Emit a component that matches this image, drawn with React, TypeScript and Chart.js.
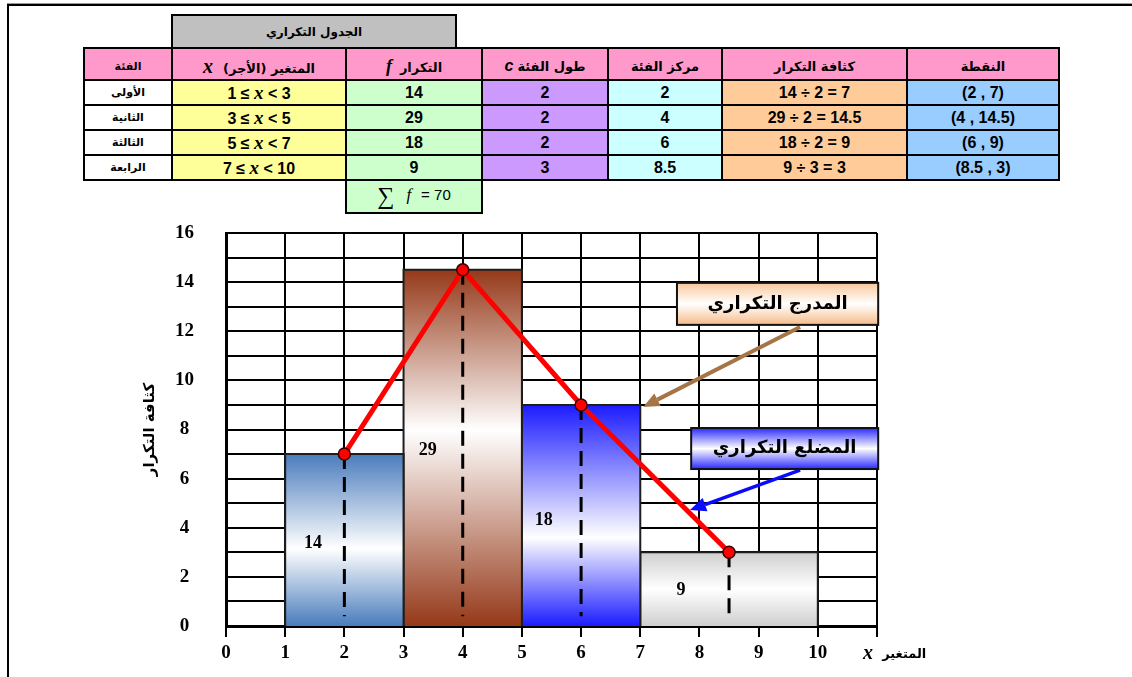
import React, { useEffect, useRef } from 'react';
import { Chart, registerables } from 'chart.js';

Chart.register(...registerables);

// ---------- data ----------
const classNames = ['الأولى', 'الثانية', 'الثالثة', 'الرابعة'];
const classLower = [1, 3, 5, 7];
const classUpper = [3, 5, 7, 10];
const frequencies = [14, 29, 18, 9];
const classWidths = [2, 2, 2, 3];
const midpoints = [2, 4, 6, 8.5];
const densities = [7, 14.5, 9, 3];
const frequencyTotal = 70;

const tableTitle = 'الجدول التكراري';
const headerLabels = ['الفئة', 'المتغير (الأجر)', 'التكرار', 'طول الفئة', 'مركز الفئة', 'كثافة التكرار', 'النقطة'];
const headerSymbols = ['', 'x', 'f', 'c', '', '', ''];

const xTickLabels = ['0', '1', '2', '3', '4', '5', '6', '7', '8', '9', '10', ''];
const yTickLabels = ['0', '', '2', '', '4', '', '6', '', '8', '', '10', '', '12', '', '14', '', '16'];
const yAxisTitle = 'كثافة التكرار';
const xAxisTitle = 'المتغير';
const xAxisSymbol = 'x';
const histogramNote = 'المدرج التكراري';
const polygonNote = 'المضلع التكراري';

// ---------- styles / layout ----------
const barStops: [number, string][][] = [
  [[0, '#4a7cbc'], [0.55, '#ffffff'], [1, '#4a7cbc']],
  [[0, '#953919'], [0.45, '#ffffff'], [1, '#953919']],
  [[0, '#1c1cff'], [0.6, '#ffffff'], [1, '#1c1cff']],
  [[0, '#cfcfcf'], [0.5, '#ffffff'], [1, '#cfcfcf']],
];
const barLabelAnchors = [[1.47, 3.38], [3.41, 7.17], [5.37, 4.32], [7.69, 1.47]];
const notes = [
  {
    text: histogramNote,
    box: [7.62, 13.97, 11.02, 12.26],
    stops: [[0, '#f8c89c'], [0.5, '#ffffff'], [1, '#f6bb88']] as [number, string][],
    from: [9.7, 12.17],
    to: [7.05, 8.92],
    color: '#a67545',
    width: 4,
  },
  {
    text: polygonNote,
    box: [7.86, 8.06, 11.02, 6.39],
    stops: [[0, '#2a2aff'], [0.5, '#ffffff'], [1, '#2a2aff']] as [number, string][],
    from: [9.7, 6.35],
    to: [7.84, 4.72],
    color: '#0a0aff',
    width: 3.5,
  },
];

function gradientFor(i: number) {
  return (ctx: any) => {
    const chart = ctx.chart;
    if (!chart.chartArea) return barStops[i][0][1];
    const y = chart.scales.y;
    const g = chart.ctx.createLinearGradient(0, y.getPixelForValue(densities[i]), 0, y.getPixelForValue(0));
    barStops[i].forEach(([o, c]) => g.addColorStop(o, c));
    return g;
  };
}

function drawArrow(ctx: CanvasRenderingContext2D, x0: number, y0: number, x1: number, y1: number, color: string, w: number) {
  const ang = Math.atan2(y1 - y0, x1 - x0);
  const head = 16;
  const hw = 7;
  const bx = x1 - head * Math.cos(ang);
  const by = y1 - head * Math.sin(ang);
  ctx.strokeStyle = color;
  ctx.lineWidth = w;
  ctx.lineCap = 'butt';
  ctx.beginPath();
  ctx.moveTo(x0, y0);
  ctx.lineTo(bx, by);
  ctx.stroke();
  ctx.fillStyle = color;
  ctx.beginPath();
  ctx.moveTo(x1, y1);
  ctx.lineTo(bx + hw * Math.sin(ang), by - hw * Math.cos(ang));
  ctx.lineTo(bx - hw * Math.sin(ang), by + hw * Math.cos(ang));
  ctx.closePath();
  ctx.fill();
}

const extrasPlugin = {
  id: 'extras',
  afterDatasetsDraw(chart: any) {
    const { ctx, scales } = chart;
    const x = scales.x;
    const y = scales.y;
    ctx.save();
    // bar frequency labels
    ctx.font = 'bold 18px "Liberation Serif", serif';
    ctx.fillStyle = '#000';
    ctx.textAlign = 'center';
    ctx.textBaseline = 'middle';
    frequencies.forEach((f, i) => {
      ctx.fillText(String(f), x.getPixelForValue(barLabelAnchors[i][0]), y.getPixelForValue(barLabelAnchors[i][1]));
    });
    // notes
    notes.forEach((n) => {
      const x0 = x.getPixelForValue(n.box[0]);
      const y0 = y.getPixelForValue(n.box[1]);
      const x1 = x.getPixelForValue(n.box[2]);
      const y1 = y.getPixelForValue(n.box[3]);
      drawArrow(ctx, x.getPixelForValue(n.from[0]), y.getPixelForValue(n.from[1]), x.getPixelForValue(n.to[0]), y.getPixelForValue(n.to[1]), n.color, n.width);
      const g = ctx.createLinearGradient(0, y0, 0, y1);
      n.stops.forEach(([o, c]) => g.addColorStop(o, c));
      ctx.fillStyle = g;
      ctx.fillRect(x0, y0, x1 - x0, y1 - y0);
      ctx.lineWidth = 2;
      ctx.strokeStyle = '#111';
      ctx.strokeRect(x0, y0, x1 - x0, y1 - y0);
      ctx.fillStyle = '#000';
      ctx.font = 'bold 18px "DejaVu Sans", sans-serif';
      ctx.direction = 'rtl';
      ctx.textAlign = 'center';
      ctx.fillText(n.text, (x0 + x1) / 2, (y0 + y1) / 2);
      ctx.direction = 'ltr';
    });
    // axis titles
    const x0p = x.getPixelForValue(0);
    ctx.save();
    ctx.translate(x0p - 76, y.getPixelForValue(8));
    ctx.rotate(-Math.PI / 2);
    ctx.font = 'bold 15px "DejaVu Sans", sans-serif';
    ctx.direction = 'rtl';
    ctx.textAlign = 'center';
    ctx.fillText(yAxisTitle, 0, 0);
    ctx.restore();
    const yb = y.getPixelForValue(0) + 28;
    ctx.font = 'italic bold 20px "Liberation Serif", serif';
    ctx.textAlign = 'center';
    ctx.fillText(xAxisSymbol, x.getPixelForValue(10.85), yb);
    ctx.font = 'bold 13px "DejaVu Sans", sans-serif';
    ctx.direction = 'rtl';
    ctx.fillText(xAxisTitle, x.getPixelForValue(11.46), yb + 1);
    ctx.restore();
  },
};

// ---------- table ----------
const colX = [84, 172, 346, 482, 608, 722, 907, 1059];
const rowY = [48, 80, 105, 130, 155, 180];
const colColors = ['#ffffff', '#ffff99', '#ccffcc', '#cc99ff', '#ccffff', '#ffcc99', '#99ccff'];
const headerColor = '#ff99cc';
const arabicFont = '"DejaVu Sans", sans-serif';
const numFont = '"Liberation Sans", Arial, sans-serif';
const serif = '"Liberation Serif", serif';

function Cell(props: { l: number; t: number; r: number; b: number; bg: string; children?: any; style?: any }) {
  const { l, t, r, b, bg, children, style } = props;
  return (
    <div
      style={{
        position: 'absolute',
        left: l - 1,
        top: t - 1,
        width: r - l + 2,
        height: b - t + 2,
        border: '2px solid #000',
        boxSizing: 'border-box',
        background: bg,
        display: 'flex',
        alignItems: 'center',
        justifyContent: 'center',
        whiteSpace: 'nowrap',
        overflow: 'hidden',
        color: '#000',
        ...style,
      }}
    >
      {children}
    </div>
  );
}

function symbolStyle(s: string): any {
  if (s === 'x') return { fontFamily: serif, fontStyle: 'italic', fontWeight: 'bold', fontSize: 20, marginRight: 10 };
  if (s === 'f') return { fontFamily: serif, fontStyle: 'italic', fontSize: 18, marginRight: 8 };
  return { fontFamily: numFont, fontStyle: 'italic', fontWeight: 'bold', fontSize: 16, marginRight: 4 };
}

function Table() {
  const rowsCells: any[] = [];
  classNames.forEach((name, r) => {
    const t = rowY[r + 1];
    const b = rowY[r + 2];
    const texts: any[] = [
      <span style={{ fontFamily: arabicFont, fontWeight: 'bold', fontSize: 11 }} dir="rtl">{name}</span>,
      <span dir="ltr">
        {classLower[r]} ≤ <span style={{ fontFamily: serif, fontStyle: 'italic', fontSize: 19 }}>x</span> &lt; {classUpper[r]}
      </span>,
      <span>{frequencies[r]}</span>,
      <span>{classWidths[r]}</span>,
      <span>{midpoints[r]}</span>,
      <span dir="ltr">{`${frequencies[r]} ÷ ${classWidths[r]} = ${densities[r]}`}</span>,
      <span dir="ltr">{`(${midpoints[r]} , ${densities[r]})`}</span>,
    ];
    texts.forEach((tx, c) => {
      rowsCells.push(
        <Cell key={`r${r}c${c}`} l={colX[c]} t={t} r={colX[c + 1]} b={b} bg={colColors[c]}
          style={{ fontFamily: numFont, fontWeight: 'bold', fontSize: 16 }}>
          {tx}
        </Cell>
      );
    });
  });
  return (
    <>
      <Cell l={colX[1]} t={15} r={456} b={rowY[0]} bg="#c0c0c0" style={{ fontFamily: arabicFont, fontWeight: 'bold', fontSize: 12 }}>
        <span dir="rtl">{tableTitle}</span>
      </Cell>
      {headerLabels.map((h, c) => (
        <Cell key={`h${c}`} l={colX[c]} t={rowY[0]} r={colX[c + 1]} b={rowY[1]} bg={headerColor}
          style={{ fontFamily: arabicFont, fontWeight: 'bold', fontSize: c === 0 ? 11 : 13, paddingTop: 4 }}>
          <span dir="rtl">
            {h}
            {headerSymbols[c] ? <span style={symbolStyle(headerSymbols[c])}>{headerSymbols[c]}</span> : null}
          </span>
        </Cell>
      ))}
      {rowsCells}
      <Cell l={colX[2]} t={rowY[5]} r={colX[3]} b={213} bg={colColors[2]} style={{ fontFamily: numFont, fontSize: 15 }}>
        <span dir="ltr">
          <span style={{ fontFamily: serif, fontSize: 24, verticalAlign: 'middle' }}>∑</span>
          <span style={{ fontFamily: serif, fontStyle: 'italic', fontSize: 17, margin: '0 10px 0 12px' }}>f</span>
          = {frequencyTotal}
        </span>
      </Cell>
    </>
  );
}

export default function App() {
  const canvasRef = useRef<HTMLCanvasElement>(null);
  useEffect(() => {
    const polygon = {
      label: 'polygon',
      data: midpoints.map((m, i) => ({ x: m, y: densities[i] })),
      borderColor: '#ff0000',
      borderWidth: 5,
      pointRadius: 6,
      pointBackgroundColor: '#ff0000',
      pointBorderColor: '#3a0000',
      pointBorderWidth: 1.5,
      fill: false,
      order: 0,
    };
    const dashes = midpoints.map((m, i) => ({
      label: 'mid' + i,
      data: [{ x: m, y: densities[i] }, { x: m, y: 0.4 }],
      borderColor: '#000',
      borderWidth: 3,
      borderDash: [15, 8],
      pointRadius: 0,
      fill: false,
      order: 1,
    }));
    const bars = classLower.map((lo, i) => ({
      label: 'bar' + i,
      data: [
        { x: lo, y: 0 },
        { x: lo, y: densities[i] },
        { x: classUpper[i], y: densities[i] },
        { x: classUpper[i], y: 0 },
      ],
      borderColor: '#1e1e1e',
      borderWidth: 2,
      pointRadius: 0,
      fill: 'origin',
      backgroundColor: gradientFor(i),
      order: 2,
    }));
    const chart = new Chart(canvasRef.current as HTMLCanvasElement, {
      type: 'line',
      data: { datasets: [polygon, ...dashes, ...bars] as any },
      options: {
        animation: false,
        responsive: false,
        events: [],
        layout: { padding: { left: 166, right: 255, top: 233, bottom: 11 } },
        plugins: { legend: { display: false }, tooltip: { enabled: false } },
        elements: { line: { tension: 0 } },
        scales: {
          x: {
            type: 'linear',
            min: 0,
            max: 11,
            afterFit: (s: any) => { s.height = 40; },
            ticks: {
              stepSize: 1,
              autoSkip: false,
              maxRotation: 0,
              padding: 5,
              color: '#000',
              font: { family: '"Liberation Serif", serif', size: 19, weight: 'bold' },
              callback: (v: any) => xTickLabels[v] ?? '',
            },
            grid: { color: '#000', lineWidth: 2, tickLength: 11, drawTicks: true },
            border: { color: '#000', width: 3 },
          },
          y: {
            type: 'linear',
            min: 0,
            max: 16,
            afterFit: (s: any) => { s.width = 60; },
            ticks: {
              stepSize: 1,
              autoSkip: false,
              crossAlign: 'center',
              padding: 32,
              color: '#000',
              font: { family: '"Liberation Serif", serif', size: 19, weight: 'bold' },
              callback: (v: any) => yTickLabels[v] ?? '',
            },
            grid: { color: '#000', lineWidth: 2, drawTicks: false },
            border: { color: '#000', width: 3 },
          },
        },
      } as any,
      plugins: [extrasPlugin],
    });
    return () => chart.destroy();
  }, []);

  return (
    <div style={{ position: 'fixed', left: 0, top: 0, width: 1132, height: 677, background: '#fff', overflow: 'hidden' }}>
      <canvas ref={canvasRef} width={1132} height={677} style={{ position: 'absolute', left: 0, top: 0, width: 1132, height: 677 }} />
      <div style={{ position: 'absolute', left: 7, top: 3, width: 1130, height: 1, background: '#999' }} />
      <div style={{ position: 'absolute', left: 7, top: 4, width: 1130, height: 2, background: '#000' }} />
      <div style={{ position: 'absolute', left: 7, top: 4, width: 2, height: 680, background: '#000' }} />
      <Table />
    </div>
  );
}
